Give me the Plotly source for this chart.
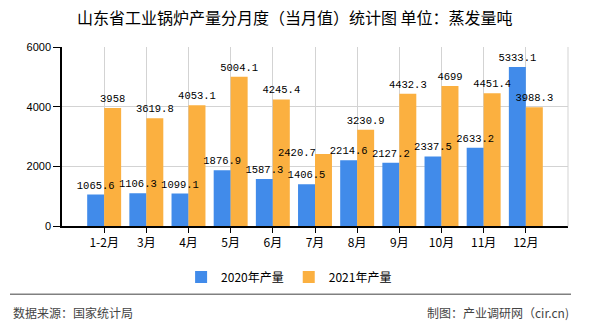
import plotly.graph_objects as go

months = ["1-2月", "3月", "4月", "5月", "6月", "7月", "8月", "9月", "10月", "11月", "12月"]
prod_2020 = [1065.6, 1106.3, 1099.1, 1876.9, 1587.3, 1406.5, 2214.6, 2127.2, 2337.5, 2633.2, 5333.1]
prod_2021 = [3958, 3619.8, 4053.1, 5004.1, 4245.4, 2420.7, 3230.9, 4432.3, 4699, 4451.4, 3988.3]
y_ticks = [0, 2000, 4000, 6000]

# label of the 2021 July bar is moved aside (as in the original) to avoid the August label
moved_idx = 5

W, H = 590, 330
L, R, T, B = 62, 22, 47, 101
PW, PH = W - L - R, H - T - B


def px2x(px):
    return (px - L) / PW


def py2y(py):
    return (H - B - py) / PH


label_font = dict(family="Liberation Mono", size=10.5, color="#000")

fig = go.Figure()
series = [("2020年产量", prod_2020, "#418BEA", "a", None),
          ("2021年产量", prod_2021, "#FBB040", "b", moved_idx)]
# the bars
for name, vals, color, grp, _ in series:
    fig.add_trace(go.Bar(
        x=months, y=vals, name=name, offsetgroup=grp,
        marker=dict(color=color, line=dict(width=0)),
    ))
# transparent copies carrying the value labels, drawn above every bar
for name, vals, color, grp, skip in series:
    fig.add_trace(go.Bar(
        x=months, y=vals, name=name, offsetgroup=grp, showlegend=False,
        marker=dict(color="rgba(0,0,0,0)", line=dict(width=0)),
        text=["" if i == skip else f"{v:g}" for i, v in enumerate(vals)],
        textposition="outside",
        textangle=0, constraintext="none",
        textfont=label_font, outsidetextfont=label_font,
        cliponaxis=False, hoverinfo="skip",
    ))

fig.add_annotation(
    x=months[moved_idx], y=prod_2021[moved_idx], xref="x", yref="y",
    text=f"{prod_2021[moved_idx]:g}", showarrow=False,
    xanchor="center", yanchor="middle", xshift=-18, yshift=1,
    font=label_font,
)

fig.update_layout(
    width=W, height=H,
    margin=dict(l=L, r=R, t=T, b=B),
    paper_bgcolor="white", plot_bgcolor="white",
    barmode="group", bargap=0.195, bargroupgap=0,
    font=dict(family="Noto Sans CJK SC", size=12, color="#000"),
    showlegend=True,
    legend=dict(
        orientation="h", xref="container", yref="container",
        x=0.49, y=1 - 277 / H, xanchor="center", yanchor="middle",
        font=dict(family="Noto Sans CJK SC", size=12, color="#000"),
        itemwidth=30, traceorder="normal",
    ),
    xaxis=dict(
        type="category", range=[-1, 11],
        showgrid=True, gridcolor="#D3D3D3", gridwidth=1,
        showline=True, linecolor="#000", linewidth=1.5,
        ticks="outside", ticklen=5, tickcolor="#000",
        tickfont=dict(family="Noto Sans CJK SC", size=12, color="#000"),
        zeroline=False,
    ),
    yaxis=dict(
        range=[0, 6000], tickvals=y_ticks,
        showgrid=True, gridcolor="#D3D3D3", gridwidth=1,
        showline=True, linecolor="#000", linewidth=1.5,
        ticks="outside", ticklen=7, tickcolor="#000",
        tickfont=dict(family="Liberation Sans", size=11, color="#000"),
        zeroline=False,
    ),
)

# right border of the plot area
fig.add_shape(type="line", xref="paper", yref="paper", x0=1, x1=1, y0=0, y1=1,
              line=dict(color="#D3D3D3", width=1))
# footer separator
fig.add_shape(type="line", xref="paper", yref="paper",
              x0=px2x(10), x1=px2x(571), y0=py2y(298), y1=py2y(298),
              line=dict(color="#808080", width=1.5))

fig.add_annotation(
    text="山东省工业锅炉产量分月度（当月值）统计图 单位：蒸发量吨",
    xref="paper", yref="paper", x=px2x(295), y=py2y(17),
    xanchor="center", yanchor="middle", showarrow=False,
    font=dict(family="Noto Sans CJK SC", size=16, color="#000"),
)
fig.add_annotation(
    text="数据来源：国家统计局",
    xref="paper", yref="paper", x=px2x(11), y=py2y(316),
    xanchor="left", yanchor="middle", showarrow=False,
    font=dict(family="Noto Sans CJK SC", size=12, color="#444"),
)
fig.add_annotation(
    text="制图：产业调研网（cir.cn)",
    xref="paper", yref="paper", x=px2x(571), y=py2y(316),
    xanchor="right", yanchor="middle", showarrow=False,
    font=dict(family="Noto Sans CJK SC", size=12, color="#444"),
)

fig.write_html("out.html")
